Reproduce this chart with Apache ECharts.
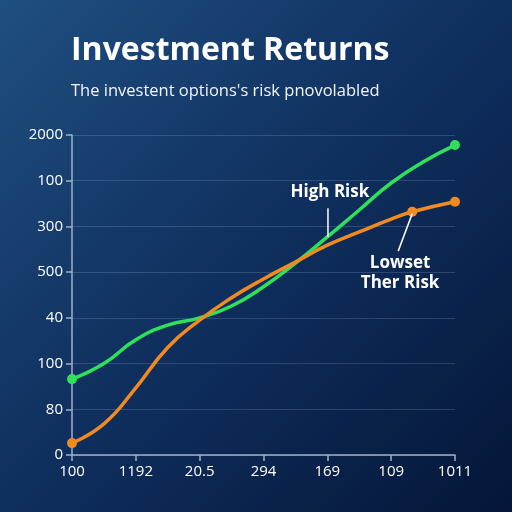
<!DOCTYPE html>
<html>
<head>
<meta charset="utf-8">
<script src="https://cdn.jsdelivr.net/npm/echarts@6/dist/echarts.min.js"></script>
<style>
  html, body { margin: 0; padding: 0; }
  #main { width: 512px; height: 512px; }
</style>
</head>
<body>
<div id="main"></div>
<script>
// tick labels as printed on the picture
const xLabels = ['100', '1192', '20.5', '294', '169', '109', '1011']
const yLabels = ['0', '80', '100', '40', '500', '300', '100', '2000']

// [x position, grid step]
const highRisk = [[0, 1.66], [0.5, 2.0], [1, 2.52], [1.5, 2.84], [2, 3.0], [2.5, 3.26], [3, 3.68],
    [3.5, 4.2], [4, 4.77], [4.5, 5.36], [5, 5.95], [5.5, 6.41], [6, 6.78]]
const lowRisk = [[0, 0.26], [0.5, 0.68], [1, 1.47], [1.5, 2.35], [2, 2.95], [2.5, 3.44], [3, 3.85],
    [3.5, 4.22], [4, 4.59], [4.5, 4.88], [5, 5.16], [5.33, 5.32], [6, 5.54]]
const highDots = [0, 6]
const lowDots = [0, 5.33, 6]

const highNote = { text: 'High Risk', at: [4.04, 5.75], line: [[4.01, 5.40], [4.01, 4.77]] }
const lowNote = { text: 'Lowset\nTher Risk', at: [5.14, 3.98], line: [[5.33, 5.28], [5.11, 4.46]] }

const myChart = echarts.init(document.getElementById('main'))

const withDots = (pts, dots) => pts.map(p => ({
    value: p,
    symbol: dots.includes(p[0]) ? 'circle' : 'none'
}))

const noteSeries = (note) => ({
    type: 'line',
    data: note.line,
    symbol: 'none',
    lineStyle: { color: '#ffffff', width: 1.5 },
    silent: true,
    z: 5,
    markPoint: {
        symbol: 'circle',
        symbolSize: 1,
        itemStyle: { color: 'rgba(0,0,0,0)' },
        label: {
            show: true,
            position: 'inside',
            color: '#ffffff',
            fontSize: 17,
            fontWeight: 'bold',
            fontFamily: 'Open Sans',
            lineHeight: 20,
            formatter: note.text
        },
        data: [{ coord: note.at }]
    }
})

myChart.setOption({
    backgroundColor: {
        type: 'linear', x: 0, y: 0, x2: 1, y2: 1,
        colorStops: [
            { offset: 0, color: '#1f4f80' },
            { offset: 0.5, color: '#0f2f5e' },
            { offset: 1, color: '#051638' }
        ]
    },
    title: {
        text: 'Investment Returns',
        subtext: "The investent options's risk pnovolabled",
        left: 66,
        top: 30,
        itemGap: 16,
        textStyle: { color: '#ffffff', fontSize: 32, fontWeight: 'bold', fontFamily: 'Open Sans' },
        subtextStyle: { color: '#f2f5fa', fontSize: 16.5, fontFamily: 'Open Sans' }
    },
    grid: { left: 72, right: 57, top: 135, bottom: 57 },
    xAxis: {
        type: 'value',
        min: 0,
        max: 6,
        interval: 1,
        axisLine: { show: true, lineStyle: { color: '#9fb0c8', width: 1.5 } },
        axisTick: { show: true, length: 6, lineStyle: { color: '#9fb0c8', width: 1.5 } },
        splitLine: { show: false },
        axisLabel: {
            color: '#ffffff',
            fontSize: 15,
            fontFamily: 'Open Sans',
            margin: 9,
            formatter: v => xLabels[v]
        }
    },
    yAxis: {
        type: 'value',
        min: 0,
        max: 7,
        interval: 1,
        axisLine: { show: true, lineStyle: { color: '#9fb0c8', width: 1.5 } },
        axisTick: { show: true, length: 6, lineStyle: { color: '#9fb0c8', width: 1.5 } },
        splitLine: { show: true, lineStyle: { color: 'rgba(160,185,220,0.22)', width: 1 } },
        axisLabel: {
            color: '#ffffff',
            fontSize: 15,
            fontFamily: 'Open Sans',
            margin: 9,
            formatter: v => yLabels[v]
        }
    },
    series: [
        {
            name: 'High Risk',
            type: 'line',
            smooth: 0.5,
            data: withDots(highRisk, highDots),
            symbolSize: 10,
            showAllSymbol: true,
            lineStyle: { color: '#2fe05a', width: 3.5 },
            itemStyle: { color: '#2fe05a' },
            z: 3
        },
        {
            name: 'Low Risk',
            type: 'line',
            smooth: 0.5,
            data: withDots(lowRisk, lowDots),
            symbolSize: 10,
            showAllSymbol: true,
            lineStyle: { color: '#f28a22', width: 3.5 },
            itemStyle: { color: '#f28a22' },
            z: 4
        },
        noteSeries(highNote),
        noteSeries(lowNote)
    ]
})
</script>
</body>
</html>
